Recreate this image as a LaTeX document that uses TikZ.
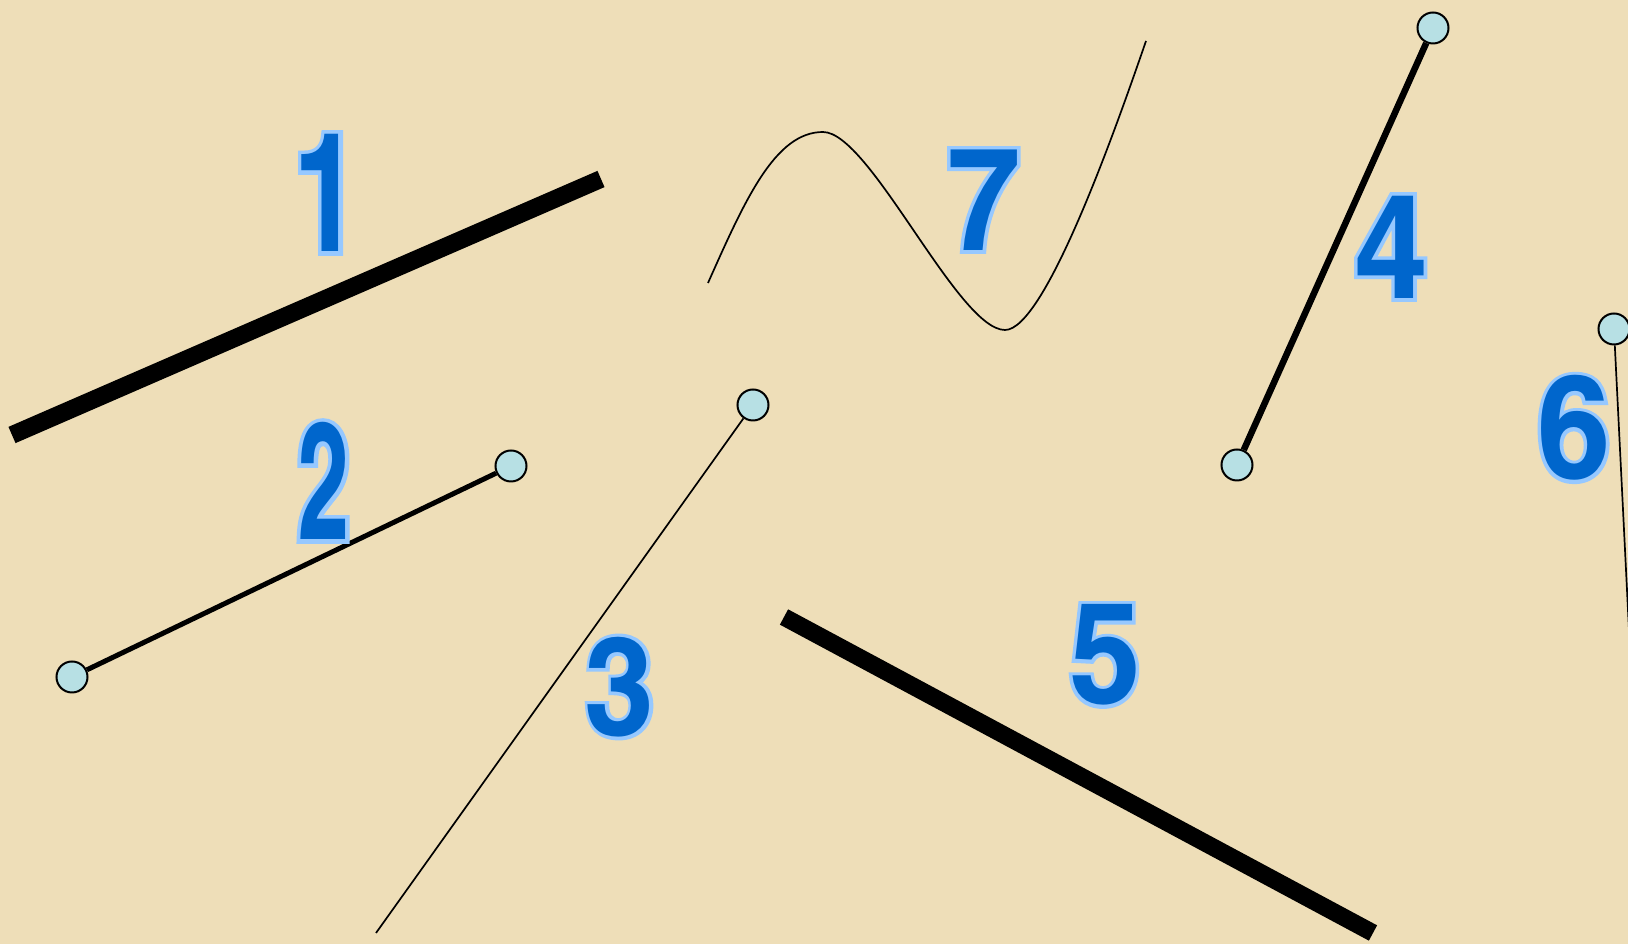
\documentclass[tikz,border=0pt]{standalone}
\usepackage{fontspec}
\newfontfamily\numfont{texgyreheroscn-bold.otf}
\definecolor{paper}{RGB}{238,222,184}
\definecolor{numblue}{RGB}{0,102,204}
\definecolor{numedge}{RGB}{150,200,255}
\definecolor{dotfill}{RGB}{183,224,228}

% digit with light outline: name, position, size (pt), stretch, digit
\newcommand{\bignum}[5]{%
  \node[numhalo,font=\numfont\addfontfeatures{FakeStretch=#4,FakeBold=5}\fontsize{#3pt}{#3pt}\selectfont] (#1h) at (#2) {#5};
  \node[numcore,font=\numfont\addfontfeatures{FakeStretch=#4}\fontsize{#3pt}{#3pt}\selectfont] (#1) at (#2) {#5};
}

\begin{document}
\begin{tikzpicture}[x=0.1mm,y=-0.1mm,
  endpt/.style={circle,draw,line width=0.2mm,fill=dotfill,minimum size=3.1mm,inner sep=0},
  numhalo/.style={text=numedge,inner sep=0},
  numcore/.style={text=numblue,inner sep=0},
  thinline/.style={line width=0.17mm}]

% Paper
\fill[paper] (0,0) rectangle (1628,944);
\useasboundingbox (0,0) rectangle (1628,944);
\clip (0,0) rectangle (1628,944);

% Line 1 (no ends)
\coordinate (a1) at (12,435);
\coordinate (b1) at (601,179);
\draw[line width=1.77mm] (a1) -- (b1);

% Line 2 (two ends)
\node[endpt] (a2) at (72,677) {};
\node[endpt] (b2) at (511,466) {};
\draw[line width=0.5mm] (a2) -- (b2);

% Line 3 (one end)
\node[endpt] (a3) at (753,405) {};
\coordinate (b3) at (376,933);
\draw[thinline] (a3) -- (b3);

% Line 4 (two ends)
\node[endpt] (a4) at (1433,28) {};
\node[endpt] (b4) at (1237,465) {};
\draw[line width=0.65mm] (a4) -- (b4);

% Line 5 (no ends)
\coordinate (a5) at (784,617);
\coordinate (b5) at (1373,933);
\draw[line width=1.74mm] (a5) -- (b5);

% Line 6 (one end, runs off the page)
\node[endpt] (a6) at (1614,329) {};
\coordinate (b6) at (1630,650);
\draw[thinline] (a6) -- (b6);

% Curve 7
\coordinate (w0) at (708,283);
\coordinate (w1) at (823,132);
\coordinate (w2) at (1005,330);
\coordinate (w3) at (1146,41);
\draw[thinline] (w0) .. controls (745,200) and (775,132) .. (w1)
  .. controls (870,132) and (958,330) .. (w2)
  .. controls (1045,330) and (1116,128) .. (w3);

% Numbers
\bignum{n1}{327,193}{47}{0.88}{1}
\bignum{n2}{324,481}{47}{0.68}{2}
\bignum{n3}{620,687}{39}{1.12}{3}
\bignum{n4}{1391,247}{41}{1.12}{4}
\bignum{n5}{1105,655}{40}{1.12}{5}
\bignum{n6}{1574,428}{41}{1.12}{6}
\bignum{n7}{984,200}{41}{1.12}{7}

\end{tikzpicture}
\end{document}
